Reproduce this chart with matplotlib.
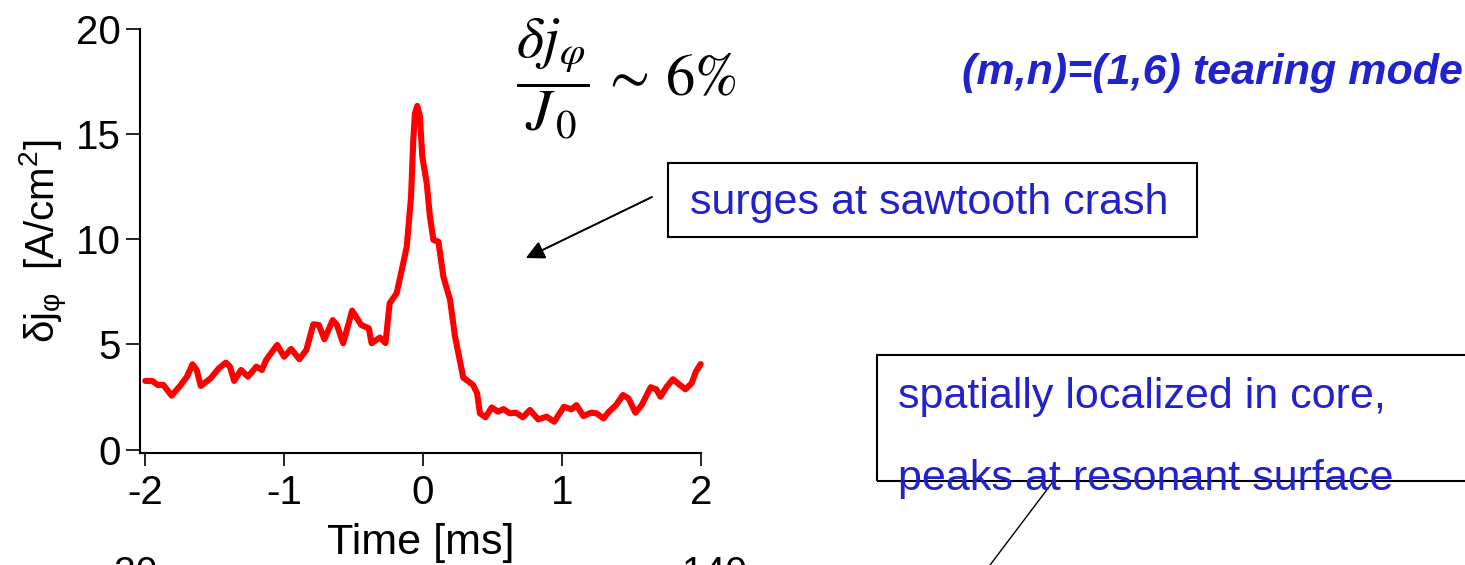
import matplotlib
matplotlib.use("Agg")
import matplotlib.pyplot as plt
from matplotlib.patches import Rectangle
from matplotlib.lines import Line2D

plt.rcParams['font.family'] = ['Liberation Sans', 'DejaVu Sans']
plt.rcParams['mathtext.fontset'] = 'custom'
plt.rcParams['mathtext.rm'] = 'Liberation Sans'
plt.rcParams['mathtext.it'] = 'Liberation Sans:italic'
plt.rcParams['mathtext.bf'] = 'Liberation Sans:bold'

# Current perturbation around the sawtooth crash
time_ms = [-2.00, -1.95, -1.91, -1.87, -1.81, -1.75, -1.70, -1.66, -1.63, -1.60,
           -1.53, -1.47, -1.42, -1.39, -1.36, -1.31, -1.26, -1.20, -1.16, -1.13,
           -1.05, -1.00, -0.95, -0.89, -0.84, -0.79, -0.75, -0.71, -0.65, -0.62,
           -0.575, -0.51, -0.445, -0.39, -0.37, -0.31, -0.27, -0.24, -0.19, -0.153,
           -0.117, -0.086, -0.070, -0.058, -0.041, -0.022, -0.005, 0.027, 0.050, 0.075,
           0.111, 0.147, 0.195, 0.23, 0.255, 0.29, 0.36, 0.39, 0.41, 0.45,
           0.495, 0.54, 0.58, 0.625, 0.67, 0.72, 0.77, 0.83, 0.89, 0.945,
           1.015, 1.07, 1.105, 1.155, 1.21, 1.25, 1.30, 1.34, 1.39, 1.44,
           1.48, 1.53, 1.575, 1.64, 1.68, 1.71, 1.755, 1.80, 1.85, 1.89,
           1.935, 1.965, 2.00]
dj_phi = [3.26, 3.26, 3.07, 3.07, 2.56, 3.02, 3.46, 4.05, 3.78, 3.02,
          3.38, 3.86, 4.13, 3.94, 3.26, 3.78, 3.46, 3.94, 3.78, 4.25,
          4.97, 4.41, 4.78, 4.29, 4.73, 5.95, 5.92, 5.24, 6.15, 5.92,
          5.05, 6.60, 5.92, 5.76, 5.05, 5.32, 5.06, 6.95, 7.42, 8.53,
          9.64, 12.0, 14.7, 15.98, 16.33, 15.82, 13.92, 12.65, 11.07, 9.96,
          9.88, 8.21, 7.11, 5.40, 4.57, 3.42, 3.07, 2.67, 1.72, 1.53,
          2.00, 1.80, 1.92, 1.72, 1.75, 1.53, 1.88, 1.43, 1.56, 1.32,
          2.03, 1.91, 2.11, 1.59, 1.75, 1.72, 1.48, 1.80, 2.11, 2.59,
          2.43, 1.75, 2.11, 2.96, 2.86, 2.51, 2.98, 3.34, 3.07, 2.86,
          3.15, 3.70, 4.06]

x_ticks = [-2, -1, 0, 1, 2]
y_ticks = [0, 5, 10, 15, 20]

W, H = 1465, 565
fig = plt.figure(figsize=(W / 100, H / 100), dpi=100)


def fx(px):
    return px / W


def fy(py):
    return 1 - py / H


ax = fig.add_axes([fx(140), fy(453), fx(700.7) - fx(140), fy(28.7) - fy(453)])
ax.plot(time_ms, dj_phi, color='#ff0000', lw=4.4, solid_joinstyle='round',
        solid_capstyle='round', clip_on=False)
ax.set_xlim(-2.038, 2.0)
ax.set_ylim(-0.166, 20)
ax.set_xticks(x_ticks)
ax.set_yticks(y_ticks)
ax.set_xticklabels([str(v) for v in x_ticks])
ax.set_yticklabels([str(v) for v in y_ticks])
for side in ('top', 'right'):
    ax.spines[side].set_visible(False)
for side in ('left', 'bottom'):
    ax.spines[side].set_linewidth(1.5)
ax.tick_params(axis='both', direction='out', width=1.2, labelsize=29, colors='black')
ax.tick_params(axis='y', length=10, pad=4)
ax.tick_params(axis='x', length=9, pad=6)
ax.set_xlabel('Time [ms]', fontsize=31, labelpad=8)
ax.set_ylabel(r'δj$_{\mathrm{φ}}$  [A/cm$^{\mathrm{2}}$]', fontsize=29, labelpad=4)

blue = '#2222cc'

# Ratio of the perturbation to the equilibrium current
fig.text(fx(516), fy(79), r'$\dfrac{\delta j_{\varphi}}{J_{\,0}}\,\sim\,6\%$',
         fontsize=42, math_fontfamily='stix', ha='left', va='center')

fig.text(fx(962), fy(73), '(m,n)=(1,6) tearing mode', fontsize=31,
         fontweight='bold', fontstyle='italic', color=blue, ha='left', va='center')

# First callout box with arrow pointing at the crash
fig.patches.append(Rectangle((fx(668), fy(237)), fx(1197) - fx(668), fy(163) - fy(237),
                             transform=fig.transFigure, fill=False, lw=1.5,
                             edgecolor='black'))
fig.text(fx(690), fy(203), 'surges at sawtooth crash', fontsize=31, color=blue,
         ha='left', va='center')
fig.add_artist(plt.annotate('', xy=(fx(526), fy(258)), xycoords='figure fraction',
                            xytext=(fx(652), fy(197)), textcoords='figure fraction',
                            arrowprops=dict(arrowstyle='-|>', color='black', lw=1.2,
                                            mutation_scale=28, shrinkA=0, shrinkB=0)))

# Second callout box, partly outside the frame
fig.patches.append(Rectangle((fx(877), fy(481)), fx(1500) - fx(877), fy(355) - fy(481),
                             transform=fig.transFigure, fill=False, lw=1.5,
                             edgecolor='black'))
fig.text(fx(898), fy(397), 'spatially localized in core,', fontsize=31, color=blue,
         ha='left', va='center')
fig.text(fx(898), fy(479), 'peaks at resonant surface', fontsize=31, color=blue,
         ha='left', va='center')
fig.add_artist(Line2D([fx(1052), fx(984)], [fy(483), fy(573)],
                      transform=fig.transFigure, color='black', lw=1.0))

# Tick labels of the panel below, cut by the frame
fig.text(fx(136), fy(556), '20', fontsize=28, ha='center', va='top')
fig.text(fx(714), fy(556), '140', fontsize=28, ha='center', va='top')

fig.savefig('out.png', dpi=100)
